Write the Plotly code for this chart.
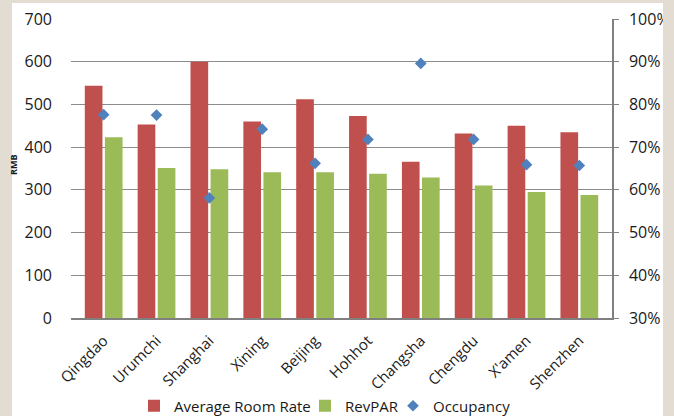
import plotly.graph_objects as go

cities = ["Qingdao", "Urumchi", "Shanghai", "Xining", "Beijing", "Hohhot",
          "Changsha", "Chengdu", "X'amen", "Shenzhen"]
avg_room_rate = [544, 453, 600, 460, 512, 473, 366, 432, 450, 435]
revpar = [423, 351, 348, 341, 341, 338, 329, 310, 295, 288]
occupancy = [0.776, 0.775, 0.581, 0.742, 0.662, 0.718, 0.896, 0.718, 0.659, 0.657]

W, H = 674, 416
L, R, T, B = 71, 62, 19, 98
pw, ph = W - L - R, H - T - B

def px_x(p):
    return (p - L) / pw

def px_y(p):
    return (H - B - p) / ph

FONT = "Open Sans"
GRID = "#8c8c8c"
BEIGE = "#e3dcd3"

fig = go.Figure()
fig.add_trace(go.Bar(x=cities, y=avg_room_rate, name="Average Room Rate",
                     legend="legend",
                     marker=dict(color="#c0504d", line=dict(width=0))))
fig.add_trace(go.Bar(x=cities, y=revpar, name="RevPAR", legend="legend2",
                     marker=dict(color="#9bbb59", line=dict(width=0))))
fig.add_trace(go.Scatter(x=cities, y=occupancy, name="Occupancy", mode="markers",
                         yaxis="y2", legend="legend3",
                         marker=dict(symbol="diamond", size=9, color="#4f81bd")))

shapes = [
    dict(type="rect", xref="paper", yref="paper", layer="above",
         x0=px_x(-5), x1=px_x(12), y0=px_y(H + 5), y1=px_y(-5),
         fillcolor=BEIGE, line=dict(width=0)),
    dict(type="rect", xref="paper", yref="paper", layer="above",
         x0=px_x(-5), x1=px_x(W + 5), y0=px_y(3), y1=px_y(-5),
         fillcolor=BEIGE, line=dict(width=0)),
    dict(type="rect", xref="paper", yref="paper", layer="above",
         x0=px_x(663), x1=px_x(W + 5), y0=px_y(H + 5), y1=px_y(-5),
         fillcolor=BEIGE, line=dict(width=0)),
]

def leg(text_start_px):
    return dict(orientation="h", xref="container", yref="container",
                x=(text_start_px - 41) / W, xanchor="left",
                y=1 - 406 / H, yanchor="middle", bgcolor="rgba(0,0,0,0)",
                font=dict(family=FONT, size=15, color="#1a1a1a"),
                itemwidth=30)

fig.update_layout(
    width=W, height=H,
    margin=dict(l=L, r=R, t=T, b=B, pad=0, autoexpand=False),
    paper_bgcolor="white", plot_bgcolor="white",
    font=dict(family=FONT, size=15, color="#1a1a1a"),
    barmode="group", bargap=0.24, bargroupgap=0.12,
    showlegend=True,
    legend=leg(175), legend2=leg(346), legend3=leg(434),
    xaxis=dict(showgrid=False, showline=True, linecolor="#808080", linewidth=2,
               ticks="", tickangle=-45, ticklabelstandoff=6, automargin=False,
               tickfont=dict(family=FONT, size=15)),
    yaxis=dict(range=[0, 700], dtick=100, showgrid=True, gridcolor=GRID,
               gridwidth=1, zeroline=False, showline=False, ticks="",
               automargin=False,
               ticklabelstandoff=18, tickfont=dict(family=FONT, size=16)),
    yaxis2=dict(range=[0.3, 1.0], dtick=0.1, tickformat=".0%", overlaying="y",
                side="right", showgrid=False, zeroline=False, showline=True,
                linecolor="#808080", linewidth=1.5, ticks="outside", ticklen=5,
                tickcolor="#808080", ticklabelstandoff=7, automargin=False,
                tickfont=dict(family=FONT, size=16)),
    shapes=shapes,
    annotations=[dict(text="<b>RMB</b>", textangle=-90, xref="paper", yref="paper",
                      x=px_x(13), y=px_y(165), xanchor="center", yanchor="middle",
                      showarrow=False, font=dict(family=FONT, size=9, color="#1a1a1a"))],
)

fig.write_html("out.html")
